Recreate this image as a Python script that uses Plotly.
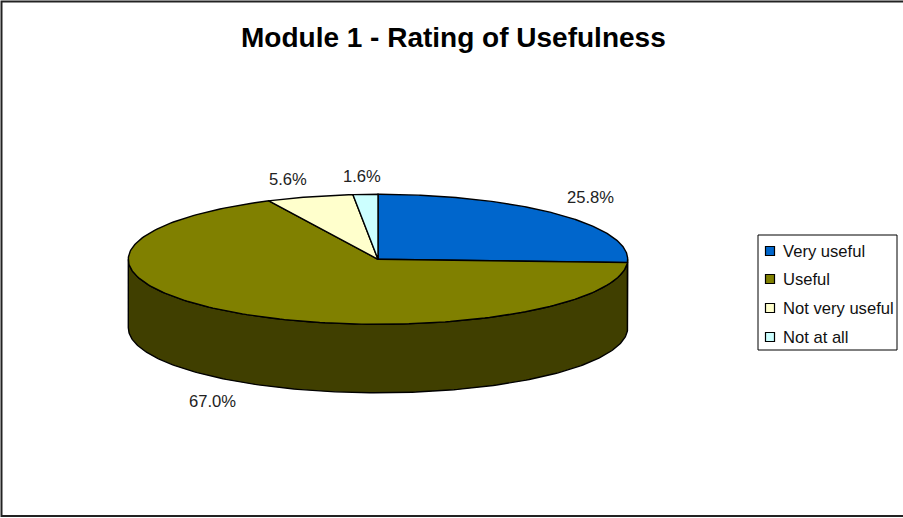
import numpy as np
import plotly.graph_objects as go

categories = ["Very useful", "Useful", "Not very useful", "Not at all"]
values = [25.8, 67.0, 5.6, 1.6]
top_colors = ["#0066CC", "#808000", "#FFFFCC", "#CCFFFF"]
side_colors = ["#00336A", "#403F00", "#80806A", "#6A8080"]

# picture geometry, in pixels
W, H = 903, 518
CX, CY, RX, RY, DEPTH = 378.0, 259.3, 249.7, 65.0, 68.5
label_pos = [(590, 197), (212, 401), (288, 179), (362, 176)]
legend_ys = [251, 279, 308, 337]
LEG_BOX = (758, 235, 897, 350)
LEG_MARK_X, LEG_TEXT_X = 770, 781

def ell(a):
    return CX + RX * np.sin(a), CY - RY * np.cos(a)

fig = go.Figure()
OUT = dict(color="#000000", width=1.4)
edges = np.radians(np.concatenate([[0], np.cumsum(values) / np.sum(values) * 360]))

# side walls (front half only)
for i in range(len(values)):
    lo, hi = max(edges[i], np.pi / 2), min(edges[i + 1], 3 * np.pi / 2)
    if hi <= lo:
        continue
    a = np.linspace(lo, hi, 200)
    x, y = ell(a)
    fig.add_trace(go.Scatter(
        x=np.r_[x, x[::-1], x[0]], y=np.r_[y, y[::-1] + DEPTH, y[0]],
        mode="lines", fill="toself", fillcolor=side_colors[i], line=OUT,
        hoverinfo="skip", showlegend=False))

# top faces
for i in range(len(values)):
    a = np.linspace(edges[i], edges[i + 1], 200)
    x, y = ell(a)
    fig.add_trace(go.Scatter(
        x=np.r_[CX, x, CX], y=np.r_[CY, y, CY],
        mode="lines", fill="toself", fillcolor=top_colors[i], line=OUT,
        name=categories[i], hoverinfo="x+y+name", showlegend=False))

# legend
fig.add_shape(type="rect", x0=LEG_BOX[0], y0=LEG_BOX[1], x1=LEG_BOX[2], y1=LEG_BOX[3],
              line=dict(color="#000000", width=1), fillcolor="#FFFFFF", layer="below")
fig.add_trace(go.Scatter(
    x=[LEG_MARK_X] * len(categories), y=legend_ys, mode="markers",
    marker=dict(symbol="square", size=9, color=top_colors, line=dict(color="#000000", width=1.2)),
    hoverinfo="skip", showlegend=False))
for name, ly in zip(categories, legend_ys):
    fig.add_annotation(x=LEG_TEXT_X, y=ly, text=name, showarrow=False, xanchor="left", yanchor="middle",
                       font=dict(size=16.6, color="#111111"))

for v, (lx, ly) in zip(values, label_pos):
    fig.add_annotation(x=lx, y=ly, text=f"{v:.1f}%", showarrow=False,
                       font=dict(size=16.6, color="#222222"))

fig.add_annotation(x=453, y=37, text="<b>Module 1 - Rating of Usefulness</b>", showarrow=False,
                   font=dict(size=28, color="#000000"))

# outer frame (right side runs off the picture)
fig.add_shape(type="rect", x0=1.5, y0=1.5, x1=910, y1=516, line=dict(color="#222222", width=2), layer="below")

fig.update_layout(
    width=W, height=H, autosize=False, margin=dict(l=0, r=0, t=0, b=0),
    paper_bgcolor="#FFFFFF", plot_bgcolor="#FFFFFF",
    font=dict(family="Liberation Sans, Arial, sans-serif"),
    xaxis=dict(range=[0, W], visible=False, fixedrange=True),
    yaxis=dict(range=[H, 0], visible=False, fixedrange=True),
)
fig.write_html("out.html", config=dict(displayModeBar=False), post_script="document.body.style.margin='0';")
